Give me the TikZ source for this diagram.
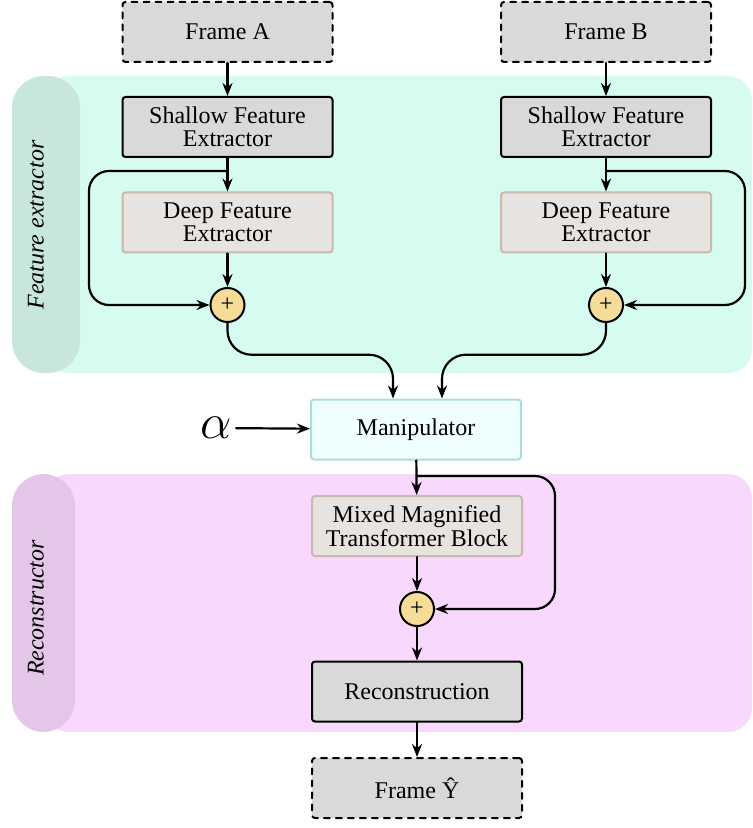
\documentclass[tikz,border=0pt]{standalone}
\usepackage{fontspec}
\setmainfont{Liberation Serif}
\usetikzlibrary{calc,arrows.meta}

\begin{document}
\begin{tikzpicture}
		[x=0.5pt,y=-0.5pt,line cap=round,>={Stealth[length=6.5pt,width=5pt]},
		%Styles
		block/.style={draw,line width=1pt,rounded corners=1.5pt,minimum width=105pt,minimum height=30pt,align=center,font=\fontsize{12}{11.75}\selectfont},
		shallow box/.style={block,fill=boxgray},
		frame box/.style={block,fill=boxgray,dashed},
		deep box/.style={block,fill=deepfill,draw=deepline},
		sum/.style={circle,draw,line width=1pt,fill=sumfill,minimum size=17pt,inner sep=0pt,font=\fontsize{12}{12}\selectfont},
		flow/.style={->,line width=1.1pt},
		band label/.style={rotate=90,font=\fontsize{12}{12}\selectfont\itshape}
		]
		
		%Colors
		\definecolor{boxgray}{HTML}{D9D9D9}
		\definecolor{deepfill}{HTML}{E6E3E0}
		\definecolor{deepline}{HTML}{CDB8AC}
		\definecolor{sumfill}{HTML}{F5DC98}
		\definecolor{featband}{HTML}{D6FCF1}
		\definecolor{featstrip}{HTML}{C8E6DD}
		\definecolor{recband}{HTML}{F8D8FC}
		\definecolor{recstrip}{HTML}{E4C6E9}
		\definecolor{manipfill}{HTML}{EEFFFE}
		\definecolor{manipline}{HTML}{A9DEDA}
		
		\useasboundingbox (0,0) rectangle (752,828);
		
		%Background bands
		\fill[featband,rounded corners=12pt] (45,76) rectangle (752,373);
		\fill[featstrip,rounded corners=16pt] (12,76) rectangle (80,373);
		\node[band label] (featlbl) at (36,225) {Feature extractor};
		\fill[recband,rounded corners=12pt] (45,474) rectangle (752,732);
		\fill[recstrip,rounded corners=16pt] (12,474) rectangle (75,732);
		\node[band label] (reclbl) at (36,608) {Reconstructor};
		
		%The graphic
		\node[frame box] (frA) at (227.5,32) {Frame A};
		\node[frame box] (frB) at (606,32) {Frame B};
		\node[shallow box] (shA) at (227.5,127) {Shallow Feature\\Extractor};
		\node[shallow box] (shB) at (606,127) {Shallow Feature\\Extractor};
		\node[deep box] (dpA) at (227.5,222.5) {Deep Feature\\Extractor};
		\node[deep box] (dpB) at (606,222.5) {Deep Feature\\Extractor};
		\node[sum] (sumA) at (227.5,305) {+};
		\node[sum] (sumB) at (606,305) {+};
		\node[block,fill=manipfill,draw=manipline] (manip) at (416,429.5) {Manipulator};
		\node[inner sep=2pt] (alpha) at (216,428) {\fontsize{23}{23}\selectfont$\alpha$};
		\node[deep box] (mmtb) at (417,526) {Mixed Magnified\\Transformer Block};
		\node[sum] (sumC) at (417,609) {+};
		\node[shallow box] (recon) at (417,691.5) {Reconstruction};
		\node[frame box] (frY) at (417,788) {Frame Ŷ};
		
		\coordinate (brA) at (227.5,171);
		\coordinate (brB) at (606,171);
		\coordinate (brC) at (417,476);
		\coordinate (inA) at ([xshift=-11.5pt]manip.north);
		\coordinate (inB) at ([xshift=13pt]manip.north);
		
		\draw[flow] (frA) -- (shA);
		\draw[flow] (frB) -- (shB);
		\draw[flow] (shA) -- (dpA);
		\draw[flow] (shB) -- (dpB);
		\draw[flow] (dpA) -- (sumA);
		\draw[flow] (dpB) -- (sumB);
		\draw[flow,rounded corners=10pt] (brA) -- ++(-138.5,0) |- (sumA.west);
		\draw[flow,rounded corners=10pt] (brB) -- ++(139,0) |- (sumB.east);
		\draw[flow,rounded corners=12pt] (sumA.south) |- ($(sumA.south)!0.42!(inA)$) -| (inA);
		\draw[flow,rounded corners=12pt] (sumB.south) |- ($(sumB.south)!0.42!(inB)$) -| (inB);
		\draw[flow] (alpha) -- (manip);
		\draw[flow] (manip) -- (mmtb);
		\draw[flow,rounded corners=10pt] (brC) -- ++(138,0) |- (sumC.east);
		\draw[flow] (mmtb) -- (sumC);
		\draw[flow] (sumC) -- (recon);
		\draw[flow] (recon) -- (frY);
	\end{tikzpicture}
\end{document}
